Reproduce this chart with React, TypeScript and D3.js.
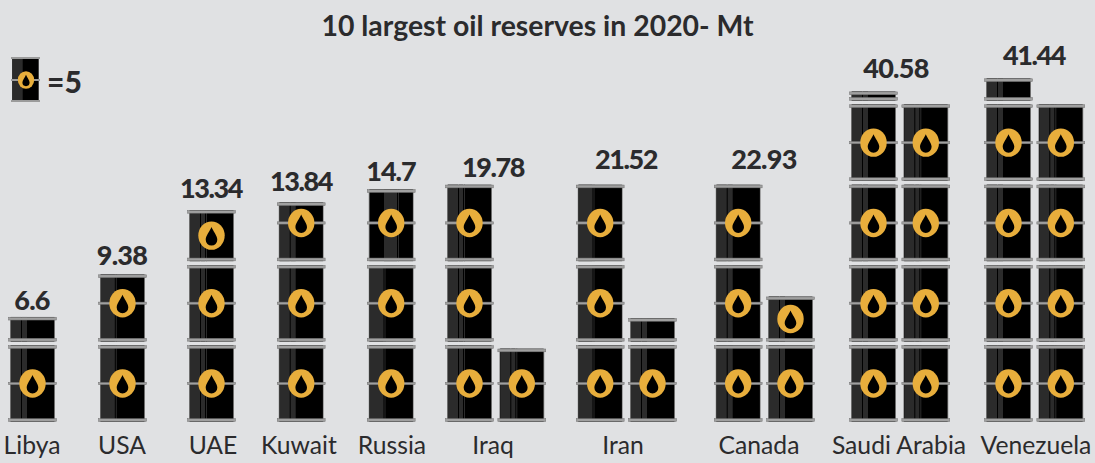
import React, { useEffect, useRef } from 'react';
import * as d3 from 'd3';

const countries = ['Libya', 'USA', 'UAE', 'Kuwait', 'Russia', 'Iraq', 'Iran', 'Canada', 'Saudi Arabia', 'Venezuela'];
const reserves = [6.6, 9.38, 13.34, 13.84, 14.7, 19.78, 21.52, 22.93, 40.58, 41.44];
// how much of each country's total sits in its second stack of barrels
const secondStack = [0, 0, 0, 0, 0, 4.78, 6.52, 7.93, 20, 20];
const valueLabels = ['6.6', '9.38', '13.34', '13.84', '14.7', '19.78', '21.52', '22.93', '40.58', '41.44'];

const stackLeft = [8.3, 98.3, 187.3, 277, 367, 445.3, 576, 714, 849.3, 984.3];
const labelCenter = [32, 122, 213, 299, 392, 493, 623, 759, 899, 1036];
const valueCenter = [32, 122, 211, 301, 391, 493, 626, 764, 896, 1034];
const valueBaseline = [310, 265, 198, 191, 181, 177, 169, 169, 78, 65];
// letter spacing per value: the "1"s need pulling in, Lato's digits are all one width
const valueSpacing = [-0.7, -0.7, -1.4, -1.4, -1, -1.4, -1.4, -0.7, -0.7, -1.4];
// stripe drawn on the barrels: first stack, second stack, top barrel override
const firstStripes = ['A', 'B', 'C', 'A', 'B', 'C', 'B', 'A', 'A', 'A'];
const secondStripes = ['A', 'A', 'A', 'A', 'A', 'C', 'A', 'A', 'C', 'C'];
const topStripes = ['', '', '', '', 'D', '', '', '', '', ''];

const stripeRects: Record<string, number[][]> = {
  A: [[2.7, 10], [13.7, 5]],
  B: [[2.5, 14], [17.5, 1]],
  C: [[2.7, 10], [13.7, 4], [18.7, 1]],
  D: [[17, 13], [31, 1]],
};

const barrelUnit = 5;
const width = 1095;
const height = 463;
const barrelWidth = 48.4;
const stackGap = 52.3;
const rowPitch = 80.3;
const groundY = 421.7;
const rimHeight = 3.3;

const fullHeight = d3.scaleLinear().domain([0, barrelUnit]).range([0, 76.3]);

function drawDrop(g: any, cx: number, cy: number, s: number) {
  g.append('ellipse')
    .attr('cx', cx)
    .attr('cy', cy)
    .attr('rx', 13.2 * s)
    .attr('ry', 14.2 * s)
    .attr('fill', '#e8ae3c');
  g.append('path')
    .attr('d', `M${cx},${cy - 8.5 * s} C${cx + 1.5 * s},${cy - 4.5 * s} ${cx + 5.8 * s},${cy} ${cx + 5.8 * s},${cy + 4.2 * s} A${5.8 * s},${5.8 * s} 0 0 1 ${cx - 5.8 * s},${cy + 4.2 * s} C${cx - 5.8 * s},${cy} ${cx - 1.5 * s},${cy - 4.5 * s} ${cx},${cy - 8.5 * s} Z`)
    .attr('fill', '#000');
}

function drawBarrel(g: any, x: number, bottom: number, h: number, stripe: string) {
  const top = bottom - h;
  g.append('rect').attr('x', x + 1.7).attr('y', top).attr('width', barrelWidth - 3.4).attr('height', h).attr('fill', '#8a8a8a');
  g.append('rect').attr('x', x + 2.5).attr('y', top).attr('width', barrelWidth - 5).attr('height', h).attr('fill', '#000');
  stripeRects[stripe].forEach(([dx, w]) => {
    g.append('rect').attr('x', x + dx).attr('y', top).attr('width', w).attr('height', h).attr('fill', '#2b2b2b');
  });
  const rim = (y: number, rh: number) => {
    g.append('rect')
      .attr('x', x + 0.25)
      .attr('y', y + 0.25)
      .attr('width', barrelWidth - 0.5)
      .attr('height', rh - 0.5)
      .attr('fill', '#a0a0a0')
      .attr('stroke', '#707070')
      .attr('stroke-width', 0.5);
  };
  rim(top, rimHeight);
  rim(bottom - rimHeight, rimHeight);
  // short barrels lose the middle hoop, very short ones the drop too
  const tall = h > 55;
  if (tall) rim(bottom - fullHeight(barrelUnit) / 2 - 1.4, 2.8);
  if (h > 30) drawDrop(g, x + barrelWidth / 2, tall ? bottom - fullHeight(barrelUnit) / 2 : top + h / 2, 1);
}

function drawStack(g: any, x: number, amount: number, stripe: string, topStripe: string) {
  const full = Math.floor(amount / barrelUnit);
  const rest = amount - full * barrelUnit;
  d3.range(full).forEach((row) => {
    drawBarrel(g, x, groundY - row * rowPitch, fullHeight(barrelUnit), stripe);
  });
  if (rest > 0.01) drawBarrel(g, x, groundY - full * rowPitch, fullHeight(rest), topStripe || stripe);
}

export default function App() {
  const ref = useRef<SVGSVGElement>(null);

  useEffect(() => {
    if (!ref.current) return;
    const svg: any = d3.select(ref.current);
    svg.selectAll('*').remove();
    svg.attr('font-family', 'Lato');

    svg.append('rect').attr('width', width).attr('height', height).attr('fill', '#e0e1e3');

    svg.append('text')
      .attr('x', 537.5)
      .attr('y', 36)
      .attr('text-anchor', 'middle')
      .attr('font-size', 28.4)
      .attr('font-weight', 700)
      .attr('fill', '#2b2b2d')
      .text('10 largest oil reserves in 2020- Mt');

    // legend
    const legend = svg.append('g');
    legend.append('rect').attr('x', 12.3).attr('y', 58).attr('width', 26.4).attr('height', 43).attr('fill', '#000');
    legend.append('rect').attr('x', 12.3).attr('y', 58).attr('width', 10.4).attr('height', 43).attr('fill', '#2b2b2b');
    [57, 79, 100].forEach((y) => {
      legend.append('rect').attr('x', 11).attr('y', y).attr('width', 29).attr('height', 2).attr('fill', '#9b9b9b');
    });
    drawDrop(legend, 26, 80, 0.62);
    legend.append('text')
      .attr('x', 47)
      .attr('y', 92.5)
      .attr('font-size', 30)
      .attr('font-weight', 900)
      .attr('fill', '#2b2b2d')
      .text('=5');

    countries.forEach((name, i) => {
      const g = svg.append('g').attr('class', 'country');
      const second = secondStack[i];
      const first = reserves[i] - second;
      drawStack(g, stackLeft[i], first, firstStripes[i], topStripes[i]);
      if (second > 0) drawStack(g, stackLeft[i] + stackGap, second, secondStripes[i], '');

      g.append('text')
        .attr('x', valueCenter[i])
        .attr('y', valueBaseline[i])
        .attr('text-anchor', 'middle')
        .attr('font-size', 27)
        .attr('font-weight', 900)
        .attr('letter-spacing', valueSpacing[i])
        .attr('fill', '#2b2b2d')
        .text(valueLabels[i]);

      g.append('text')
        .attr('x', labelCenter[i])
        .attr('y', 454)
        .attr('text-anchor', 'middle')
        .attr('font-size', 24.7)
        .attr('fill', '#2b2b2d')
        .text(name);
    });
  }, []);

  return (
    <svg ref={ref} width={width} height={height} style={{ position: 'absolute', left: 0, top: 0 }}></svg>
  );
}
